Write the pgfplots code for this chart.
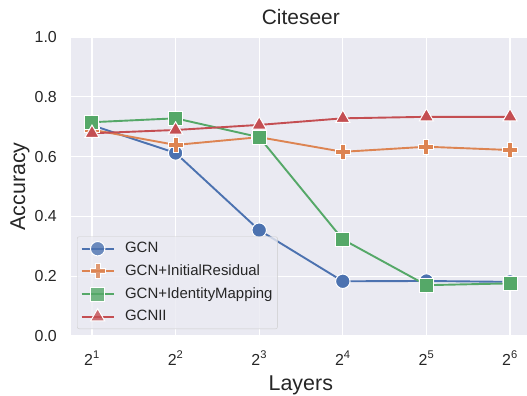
\documentclass[border=0pt]{standalone}
\usepackage{pgfplots}
\pgfplotsset{compat=1.18}
\usepackage{fontspec}
\setmainfont{Liberation Sans}
\definecolor{bgc}{HTML}{EAEAF2}
\definecolor{cblue}{HTML}{4C72B0}
\definecolor{corange}{HTML}{DD8452}
\definecolor{cgreen}{HTML}{55A868}
\definecolor{cred}{HTML}{C44E52}
\definecolor{txt}{HTML}{262626}
\definecolor{lgedge}{HTML}{CCCCCC}
\pgfdeclareplotmark{fatplus}{%
  \pgfpathmoveto{\pgfqpoint{-0.33\pgfplotmarksize}{\pgfplotmarksize}}%
  \pgfpathlineto{\pgfqpoint{0.33\pgfplotmarksize}{\pgfplotmarksize}}%
  \pgfpathlineto{\pgfqpoint{0.33\pgfplotmarksize}{0.33\pgfplotmarksize}}%
  \pgfpathlineto{\pgfqpoint{\pgfplotmarksize}{0.33\pgfplotmarksize}}%
  \pgfpathlineto{\pgfqpoint{\pgfplotmarksize}{-0.33\pgfplotmarksize}}%
  \pgfpathlineto{\pgfqpoint{0.33\pgfplotmarksize}{-0.33\pgfplotmarksize}}%
  \pgfpathlineto{\pgfqpoint{0.33\pgfplotmarksize}{-\pgfplotmarksize}}%
  \pgfpathlineto{\pgfqpoint{-0.33\pgfplotmarksize}{-\pgfplotmarksize}}%
  \pgfpathlineto{\pgfqpoint{-0.33\pgfplotmarksize}{-0.33\pgfplotmarksize}}%
  \pgfpathlineto{\pgfqpoint{-\pgfplotmarksize}{-0.33\pgfplotmarksize}}%
  \pgfpathlineto{\pgfqpoint{-\pgfplotmarksize}{0.33\pgfplotmarksize}}%
  \pgfpathlineto{\pgfqpoint{-0.33\pgfplotmarksize}{0.33\pgfplotmarksize}}%
  \pgfpathclose
  \pgfusepathqfillstroke
}
\begin{document}
\begin{tikzpicture}
\begin{axis}[
  at={(0,0)}, anchor=south west,
  scale only axis, width=456bp, height=299bp,
  xmin=0.749, xmax=6.203, ymin=0, ymax=1,
  xtick={1,2,3,4,5,6},
  xticklabels={2\textsuperscript{1},2\textsuperscript{2},2\textsuperscript{3},2\textsuperscript{4},2\textsuperscript{5},2\textsuperscript{6}},
  ytick={0,0.2,0.4,0.6,0.8,1.0},
  yticklabel style={/pgf/number format/fixed, /pgf/number format/fixed zerofill, /pgf/number format/precision=1},
  /pgf/number format/assume math mode=true,
  ticklabel style={font=\fontsize{16}{19}\selectfont, text=txt, inner sep=0pt},
  xticklabel style={anchor=base, yshift=-29bp},
  yticklabel style={anchor=east, xshift=-14bp},
  major tick length=0pt,
  grid=major, grid style={white, line width=1.3bp},
  axis line style={draw=none},
  axis background/.style={fill=bgc},
  title={Citeseer},
  title style={font=\fontsize{21}{25}\selectfont, text=txt, at={(axis description cs:0.504,1)}, anchor=base, yshift=7bp},
  xlabel={Layers}, ylabel={Accuracy},
  xlabel style={font=\fontsize{21.5}{25}\selectfont, text=txt, at={(axis description cs:0.504,-0.1806)}, anchor=base},
  ylabel style={font=\fontsize{21.5}{25}\selectfont, text=txt, at={(axis description cs:-0.1118,0.5)}, anchor=center},
  legend style={at={(axis description cs:0.0132,0.0234)}, anchor=south west,
    fill=bgc, fill opacity=0.8, text opacity=1, draw=lgedge, rounded corners=2bp,
    font=\fontsize{15}{18}\selectfont, text=txt, inner sep=3.5bp, row sep=5.7bp,
    nodes={inner sep=1.5bp, text height=11bp, text depth=3bp},
    /tikz/every odd column/.append style={column sep=9bp}},
  legend cell align=left,
  legend image code/.code={\draw[mark repeat=2,mark phase=2,#1] plot coordinates {(0bp,0bp) (16bp,0bp) (32bp,0bp)};},
  every axis plot/.append style={line width=1.9bp},
]
\addplot[cblue, mark=*, mark size=7.2bp, mark options={fill=cblue, draw=white, line width=1bp}]
  coordinates {(1,0.705) (2,0.612) (3,0.354) (4,0.183) (5,0.184) (6,0.181)};
\addlegendentry{GCN}
\addplot[corange, mark=fatplus, mark size=7.5bp, mark options={fill=corange, draw=white, line width=1bp}]
  coordinates {(1,0.69) (2,0.639) (3,0.665) (4,0.616) (5,0.633) (6,0.622)};
\addlegendentry{GCN+InitialResidual}
\addplot[cgreen, mark=square*, mark size=7bp, mark options={fill=cgreen, draw=white, line width=1bp}]
  coordinates {(1,0.715) (2,0.728) (3,0.665) (4,0.323) (5,0.170) (6,0.176)};
\addlegendentry{GCN+IdentityMapping}
\addplot[cred, mark=triangle*, mark size=8.2bp, mark options={fill=cred, draw=white, line width=1bp}]
  coordinates {(1,0.678) (2,0.689) (3,0.706) (4,0.728) (5,0.733) (6,0.733)};
\addlegendentry{GCNII}
\end{axis}
\pgfresetboundingbox
\useasboundingbox (-71bp,-60bp) rectangle (456bp,336bp);
\end{tikzpicture}
\end{document}
